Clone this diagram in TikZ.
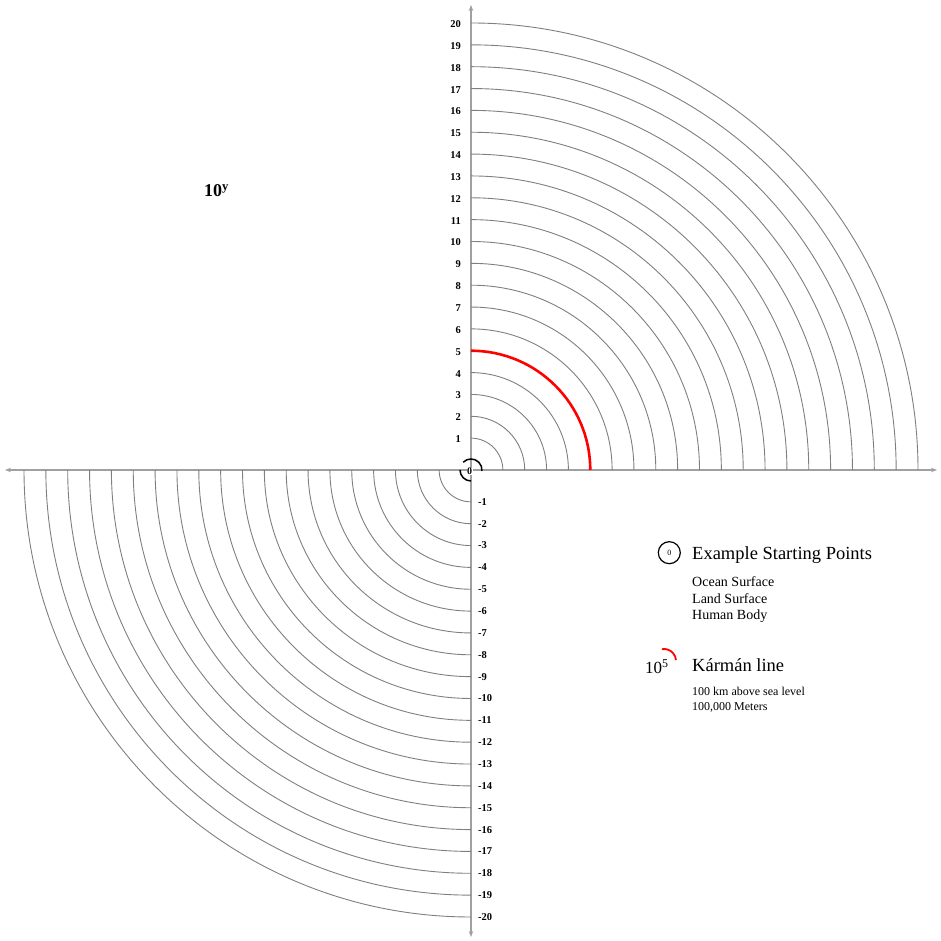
\documentclass[tikz,border=0pt]{standalone}
\usepackage{fontspec}
\setmainfont{Liberation Serif}
\usetikzlibrary{arrows.meta,calc}
\definecolor{arcgray}{HTML}{7F7F7F}
\definecolor{axisgray}{HTML}{A0A0A0}
\begin{document}
\begin{tikzpicture}[x=1pt,y=1pt,
  ring/.style={draw=arcgray, line width=0.9pt},
  axisline/.style={draw=axisgray, line width=1.3pt, -{Stealth[length=6pt,width=4.5pt]}},
  numlabel/.style={font=\fontsize{10.5}{12}\selectfont\bfseries, inner sep=0pt},
  legendtitle/.style={anchor=base west, font=\fontsize{18.5}{20}\selectfont, inner sep=0pt},
  legendtext/.style={anchor=base west, font=\fontsize{14}{16}\selectfont, inner sep=0pt},
  legendsmall/.style={anchor=base west, font=\fontsize{12}{14}\selectfont, inner sep=0pt}]
\useasboundingbox (0,0) rectangle (941,941);
\coordinate (O) at (471,471);
\coordinate (L) at (5,471);
\coordinate (R) at (937,471);
\coordinate (T) at (471,936);
\coordinate (B) at (471,4);
\draw[axisline] (O) -- (L);
\draw[axisline] (O) -- (R);
\draw[axisline] (O) -- (T);
\draw[axisline] (O) -- (B);
\foreach \n in {1,...,20}{
  \pgfmathsetmacro{\r}{10+21.85*\n}
  \draw[ring] ($(O)+(0,\r)$) arc[start angle=90,end angle=0,radius=\r];
  \draw[ring] ($(O)+(-\r,0)$) arc[start angle=180,end angle=270,radius=\r];
  \node[numlabel, anchor=east] (p\n) at ($(O)+(-10,\r-1)$) {\n};
  \node[numlabel, anchor=west] (m\n) at ($(O)+(7,-\r)$) {-\n};
}
\pgfmathsetmacro{\rf}{10+21.85*5}
\draw[red, line width=2.6pt] ($(O)+(0,\rf)$) arc[start angle=90,end angle=0,radius=\rf];
\draw[black, line width=1.5pt] ($(O)+(135:11)$) arc[start angle=135,end angle=-5,radius=11];
\draw[black, line width=1.5pt] ($(O)+(180:11)$) arc[start angle=180,end angle=270,radius=11];
\node[fill=white, inner sep=0.5pt, font=\fontsize{10}{11}\selectfont\bfseries] (zero) at (469.5,469.5) {0};
\node[anchor=base west, inner sep=0pt, font=\fontsize{18}{20}\selectfont\bfseries] (title) at (204,744) {10\textsuperscript{y}};
\node[draw, circle, line width=1.2pt, minimum size=22pt, inner sep=0pt, font=\fontsize{8}{9}\selectfont] (startcirc) at (669.3,388.3) {0};
\node[legendtitle] (starthead) at (692,381.7) {Example Starting Points};
\node[legendtext] (ocean) at (692,354.3) {Ocean Surface};
\node[legendtext] (land) at (692,337.7) {Land Surface};
\node[legendtext] (human) at (692,321) {Human Body};
\node[anchor=base west, inner sep=0pt, font=\fontsize{17}{20}\selectfont] (tenfive) at (645,267) {10\textsuperscript{5}};
\draw[red, line width=1.8pt] ($(664,280)+(100:12)$) arc[start angle=100,end angle=5,radius=12];
\node[legendtitle] (karman) at (692,269.3) {Kármán line};
\node[legendsmall] (km) at (692,245) {100 km above sea level};
\node[legendsmall] (meters) at (692,230) {100,000 Meters};
\end{tikzpicture}
\end{document}
